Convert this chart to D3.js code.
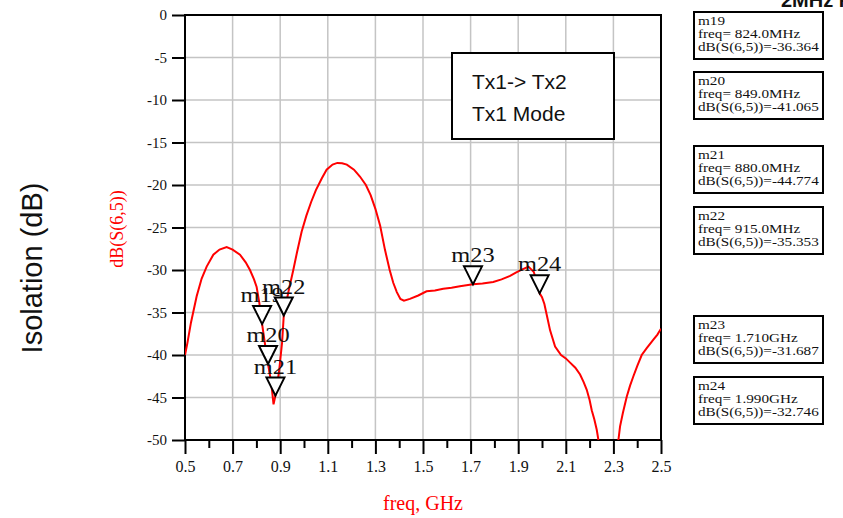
<!DOCTYPE html>
<html>
<head>
<meta charset="utf-8">
<script src="https://cdn.jsdelivr.net/npm/d3@7"></script>
<style>
  body { margin: 0; background: #fff; }
  svg { display: block; }
</style>
</head>
<body>
<div id="chart"></div>
<script>
const W = 843, H = 518;

// S(6,5) isolation curve
const freqs = [0.50, 0.51, 0.525, 0.549, 0.57, 0.591, 0.619, 0.645, 0.675, 0.70, 0.731, 0.755, 0.773, 0.79, 0.801,
  0.812, 0.824, 0.835, 0.849, 0.862, 0.872, 0.88, 0.895, 0.908, 0.915, 0.935, 0.955, 0.97, 0.99, 1.01, 1.03, 1.05,
  1.075, 1.095, 1.12, 1.14, 1.16, 1.18, 1.21, 1.235, 1.26, 1.28, 1.30, 1.32, 1.34, 1.36, 1.375, 1.39, 1.405, 1.42,
  1.445, 1.48, 1.515, 1.55, 1.585, 1.62, 1.655, 1.71, 1.75, 1.795, 1.83, 1.866, 1.89, 1.92, 1.943, 1.965, 1.98,
  1.99, 2.00, 2.01, 2.02, 2.034, 2.055, 2.08, 2.10, 2.118, 2.14, 2.16, 2.175, 2.188, 2.20, 2.209, 2.22, 2.23, 2.24,
  2.26, 2.28, 2.30, 2.315, 2.321, 2.328, 2.34, 2.356, 2.37, 2.384, 2.40, 2.419, 2.44, 2.468, 2.485, 2.50];
const isoDb = [-40.0, -38.6, -36.2, -33.1, -31.0, -29.6, -28.2, -27.6, -27.3, -27.6, -28.2, -29.1, -30.0, -31.1, -32.0,
  -33.8, -36.364, -38.5, -41.065, -43.2, -45.8, -44.774, -42.0, -38.5, -35.353, -32.5, -30.0, -28.0, -25.5, -23.6, -22.0, -20.6,
  -19.2, -18.2, -17.6, -17.4, -17.45, -17.6, -18.2, -19.0, -20.0, -21.2, -22.8, -24.8, -27.6, -30.0, -31.5, -32.6, -33.4, -33.6,
  -33.4, -33.0, -32.5, -32.4, -32.2, -32.1, -31.9, -31.687, -31.6, -31.4, -31.1, -30.7, -30.3, -29.9, -29.6, -30.2, -31.5,
  -32.746, -33.2, -34.0, -35.3, -37.1, -39.0, -40.0, -40.4, -40.9, -41.5, -42.3, -43.2, -44.1, -45.3, -46.5, -47.6, -48.8, -50.5,
  -55.0, -62.0, -55.0, -51.0, -50.0, -48.4, -46.8, -44.9, -43.6, -42.5, -41.3, -40.0, -39.2, -38.2, -37.6, -36.9];

// markers
const markerNames = ["m19", "m20", "m21", "m22", "m23", "m24"];
const markerFreqs = [0.824, 0.849, 0.880, 0.915, 1.710, 1.990];
const markerDb = [-36.364, -41.065, -44.774, -35.353, -31.687, -32.746];
const markerFreqText = ["824.0MHz", "849.0MHz", "880.0MHz", "915.0MHz", "1.710GHz", "1.990GHz"];

// axis ticks
const xMajor = [0.5, 0.7, 0.9, 1.1, 1.3, 1.5, 1.7, 1.9, 2.1, 2.3, 2.5];
const xMinor = [0.6, 0.8, 1.0, 1.2, 1.4, 1.6, 1.8, 2.0, 2.2, 2.4];
const yTicks = [0, -5, -10, -15, -20, -25, -30, -35, -40, -45, -50];

const serif = "'Liberation Serif', 'Times New Roman', serif";
const sans = "'Liberation Sans', Arial, sans-serif";

const svg = d3.select("#chart").append("svg")
  .attr("width", W)
  .attr("height", H);

const plot = { left: 185, right: 661, top: 15, bottom: 440 };

const x = d3.scaleLinear().domain([0.5, 2.5]).range([plot.left, plot.right]);
const y = d3.scaleLinear().domain([0, -50]).range([plot.top, plot.bottom]);

// grid
svg.append("g")
  .selectAll("line")
  .data(xMajor.slice(1, -1))
  .enter().append("line")
  .attr("x1", d => x(d)).attr("x2", d => x(d))
  .attr("y1", plot.top).attr("y2", plot.bottom)
  .attr("stroke", "#c4c4c4").attr("stroke-width", 1.5);

svg.append("g")
  .selectAll("line")
  .data(yTicks.slice(1, -1))
  .enter().append("line")
  .attr("x1", plot.left).attr("x2", plot.right)
  .attr("y1", d => y(d)).attr("y2", d => y(d))
  .attr("stroke", "#c4c4c4").attr("stroke-width", 1.5);

// axes
const xAxis = svg.append("g")
  .attr("transform", "translate(0," + plot.bottom + ")")
  .call(d3.axisBottom(x).tickValues(xMajor).tickSize(14).tickPadding(7).tickFormat(d => d.toFixed(1)));
svg.append("g")
  .attr("transform", "translate(0," + plot.bottom + ")")
  .call(d3.axisBottom(x).tickValues(xMinor).tickSize(8).tickFormat(""))
  .select(".domain").remove();
xAxis.select(".domain").remove();

const yAxis = svg.append("g")
  .attr("transform", "translate(" + plot.left + ",0)")
  .call(d3.axisLeft(y).tickValues(yTicks).tickSize(13).tickPadding(5).tickFormat(d => String(d)));
yAxis.select(".domain").remove();

svg.selectAll(".tick line").attr("stroke", "#000").attr("stroke-width", 2);
svg.selectAll(".tick text")
  .attr("fill", "#111")
  .style("font-family", serif)
  .style("font-size", "15px");
xAxis.selectAll(".tick text").style("font-size", "16px");

// frame
svg.append("rect")
  .attr("x", plot.left).attr("y", plot.top)
  .attr("width", plot.right - plot.left).attr("height", plot.bottom - plot.top)
  .attr("fill", "none").attr("stroke", "#000").attr("stroke-width", 2);

// curve
svg.append("clipPath").attr("id", "clip")
  .append("rect")
  .attr("x", plot.left).attr("y", plot.top)
  .attr("width", plot.right - plot.left).attr("height", plot.bottom - plot.top);

const line = d3.line()
  .x((d, i) => x(freqs[i]))
  .y(d => y(d));

svg.append("path")
  .datum(isoDb)
  .attr("clip-path", "url(#clip)")
  .attr("d", line)
  .attr("fill", "none")
  .attr("stroke", "#ff0000")
  .attr("stroke-width", 2);

// markers on the trace
const mk = svg.append("g")
  .selectAll("g")
  .data(markerNames)
  .enter().append("g")
  .attr("transform", (d, i) => "translate(" + x(markerFreqs[i]) + "," + y(markerDb[i]) + ")");

mk.append("path")
  .attr("d", "M0,0 L-9,-18 L9,-18 Z")
  .attr("fill", "#fff")
  .attr("stroke", "#000")
  .attr("stroke-width", 2);

mk.append("text")
  .attr("transform", "translate(0,-22) scale(1.22,1)")
  .attr("text-anchor", "middle")
  .style("font-family", serif)
  .style("font-size", "20px")
  .attr("fill", "#111")
  .text(d => d);

// marker readout boxes
const boxTop = [12, 72, 146, 207, 316, 377];
const boxes = svg.append("g")
  .selectAll("g")
  .data(markerNames)
  .enter().append("g")
  .attr("transform", (d, i) => "translate(694," + boxTop[i] + ")");

boxes.append("rect")
  .attr("width", 129).attr("height", 47)
  .attr("fill", "#fff").attr("stroke", "#000").attr("stroke-width", 2);

const boxText = boxes.append("text")
  .attr("transform", "translate(4,0) scale(1.17,1)")
  .style("font-family", serif)
  .style("font-size", "13px")
  .attr("fill", "#111");
boxText.append("tspan").attr("x", 0).attr("y", 13).text(d => d);
boxText.append("tspan").attr("x", 0).attr("y", 26).text((d, i) => "freq= " + markerFreqText[i]);
boxText.append("tspan").attr("x", 0).attr("y", 39).text((d, i) => "dB(S(6,5))=" + markerDb[i].toFixed(3));

// annotation box
svg.append("rect")
  .attr("x", 452).attr("y", 53).attr("width", 162).attr("height", 86)
  .attr("fill", "#fff").attr("stroke", "#000").attr("stroke-width", 2);
svg.append("text")
  .attr("x", 472).attr("y", 89)
  .style("font-family", sans).style("font-size", "21px").attr("fill", "#111")
  .text("Tx1-> Tx2");
svg.append("text")
  .attr("x", 472).attr("y", 121)
  .style("font-family", sans).style("font-size", "21px").attr("fill", "#111")
  .text("Tx1 Mode");

// axis titles
svg.append("text")
  .attr("transform", "translate(123,229) rotate(-90)")
  .attr("text-anchor", "middle")
  .style("font-family", serif).style("font-size", "18px")
  .attr("fill", "#ff0000")
  .text("dB(S(6,5))");

svg.append("text")
  .attr("transform", "translate(42,268) rotate(-90)")
  .attr("text-anchor", "middle")
  .style("font-family", sans).style("font-size", "29px")
  .attr("fill", "#111")
  .text("Isolation (dB)");

svg.append("text")
  .attr("x", 423).attr("y", 510)
  .attr("text-anchor", "middle")
  .style("font-family", serif).style("font-size", "20px")
  .attr("fill", "#ff0000")
  .text("freq, GHz");

// title cut off at the top edge
svg.append("text")
  .attr("x", 781).attr("y", 7)
  .style("font-family", sans).style("font-size", "20px").style("font-weight", "bold")
  .attr("fill", "#111")
  .text("2MHz Rx");
</script>
</body>
</html>
